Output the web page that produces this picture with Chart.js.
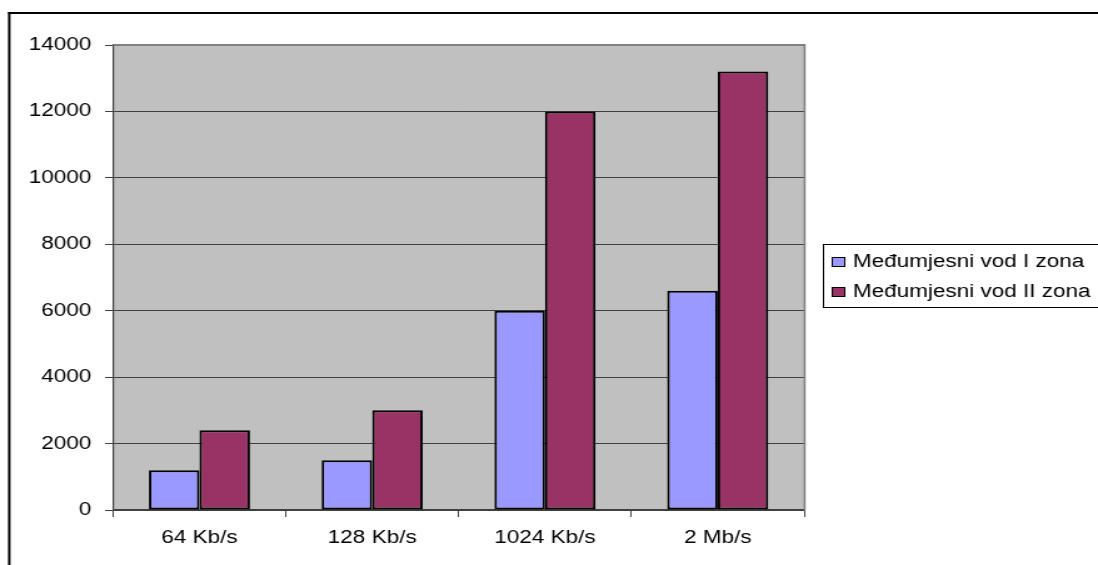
<!DOCTYPE html>
<html>
<head>
<meta charset="utf-8">
<script src="https://cdn.jsdelivr.net/npm/chart.js@4"></script>
<style>
html,body{margin:0;padding:0;background:#fff;overflow:hidden;}
</style>
</head>
<body>
<canvas id="c" width="878" height="565" style="display:block;width:1098px;height:565px;"></canvas>
<script>
const categories = ['64 Kb/s', '128 Kb/s', '1024 Kb/s', '2 Mb/s'];
const seriesNames = ['Međumjesni vod I zona', 'Međumjesni vod II zona'];
const zoneI = [1200, 1500, 6000, 6600];
const zoneII = [2400, 3000, 12000, 13200];
const yTicks = [0, 2000, 4000, 6000, 8000, 10000, 12000, 14000];

const FONT = "'Liberation Sans', Arial, sans-serif";

const framePlugin = {
  id: 'frame',
  beforeDraw(chart) {
    const ctx = chart.ctx, a = chart.chartArea;
    ctx.save();
    ctx.fillStyle = '#ffffff';
    ctx.fillRect(0, 0, chart.width, chart.height);
    ctx.fillStyle = '#c0c0c0';
    ctx.fillRect(a.left, a.top, a.right - a.left, a.bottom - a.top);
    ctx.restore();
  },
  afterDraw(chart) {
    const ctx = chart.ctx, a = chart.chartArea;
    ctx.save();
    ctx.fillStyle = '#808080';
    ctx.fillRect(a.left, a.top - 1, a.right - a.left + 1, 2);
    ctx.fillRect(a.right - 0.4, a.top - 1, 1.6, a.bottom - a.top + 1);
    ctx.fillStyle = '#000000';
    ctx.fillRect(6.4, 12, 2, chart.height);
    ctx.fillRect(6.4, 12, chart.width, 2);
    const lx = 658, ly = 244, lh = 63;
    ctx.fillStyle = '#ffffff';
    ctx.fillRect(lx, ly, chart.width - lx + 5, lh);
    ctx.strokeStyle = '#000000';
    ctx.lineWidth = 1;
    ctx.strokeRect(lx + 0.5, ly + 0.5, chart.width, lh);
    ctx.font = '18px ' + FONT;
    ctx.textBaseline = 'alphabetic';
    ctx.textAlign = 'left';
    chart.data.datasets.forEach((ds, i) => {
      const cy = 262 + i * 30;
      ctx.fillStyle = ds.backgroundColor;
      ctx.fillRect(665, cy - 5, 11, 10);
      ctx.strokeStyle = '#000';
      ctx.lineWidth = 1;
      ctx.strokeRect(665.5, cy - 4.5, 10, 9);
      ctx.fillStyle = '#000';
      ctx.fillText(ds.label, 682, cy + 5);
    });
    ctx.restore();
  }
};

new Chart(document.getElementById('c'), {
  type: 'bar',
  data: {
    labels: categories,
    datasets: [
      { label: seriesNames[0], data: zoneI, backgroundColor: '#9999ff', borderColor: '#000', borderWidth: 2, borderSkipped: false },
      { label: seriesNames[1], data: zoneII, backgroundColor: '#993366', borderColor: '#000', borderWidth: 2, borderSkipped: false }
    ]
  },
  options: {
    responsive: false,
    animation: false,
    devicePixelRatio: 1,
    layout: { padding: { left: 0, top: 45, right: 878 - 643, bottom: 0 } },
    datasets: { bar: { categoryPercentage: 0.585, barPercentage: 1 } },
    plugins: { legend: { display: false }, tooltip: { enabled: false } },
    scales: {
      x: {
        grid: { offset: true, drawOnChartArea: false, drawTicks: true, tickLength: 7, color: '#404040', lineWidth: 1 },
        border: { display: true, color: '#404040', width: 1.5 },
        ticks: { color: '#000', font: { family: FONT, size: 18 }, padding: 10 },
        afterFit(s) { s.height = 565 - 510; }
      },
      y: {
        min: 0, max: 14000,
        afterBuildTicks(s) { s.ticks = yTicks.map(v => ({ value: v })); },
        grid: { color: '#404040', lineWidth: 1, tickLength: 6.4, drawTicks: true },
        border: { display: true, color: '#404040', width: 1.2 },
        ticks: { color: '#000', font: { family: FONT, size: 18 }, padding: 11, callback: v => String(v) },
        afterFit(s) { s.width = 90.4; }
      }
    }
  },
  plugins: [framePlugin]
});
</script>
</body>
</html>
